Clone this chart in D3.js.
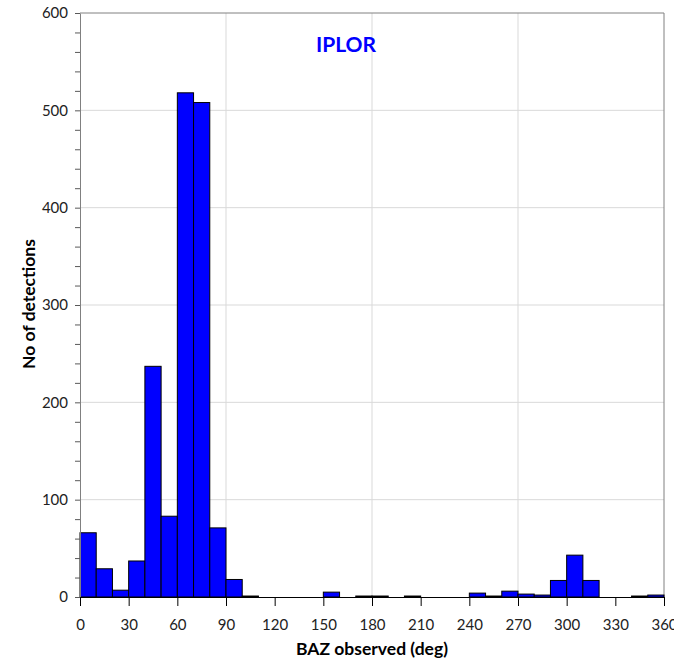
<!DOCTYPE html>
<html>
<head>
<meta charset="utf-8">
<script src="https://cdn.jsdelivr.net/npm/d3@7"></script>
<style>
body { margin: 0; background: #fff; }
text { font-family: Lato, "Open Sans", sans-serif; }
</style>
</head>
<body>
<script>
// histogram bins (deg) and counts
const binStarts = d3.range(0, 360, 10);
const counts = [66, 29, 7, 37, 237, 83, 518, 508, 71, 18,
                1, 0, 0, 0, 0, 5, 0, 1, 1, 0,
                1, 0, 0, 0, 4, 1, 6, 3, 2, 17,
                43, 17, 0, 0, 1, 2];
const xTicks = d3.range(0, 361, 30);
const yTicks = d3.range(0, 601, 100);
const yMinor = d3.range(0, 601, 20);
const xGrid = [90, 180, 270];

const w = 674, h = 662;
const mLeft = 80, mRight = 664, mTop = 13, mBottom = 597;

const svg = d3.select("body").append("svg")
  .attr("width", w).attr("height", h);

const x = d3.scaleLinear().domain([0, 360]).range([mLeft, mRight]);
const y = d3.scaleLinear().domain([0, 600]).range([mBottom, mTop]);

// grid
svg.append("g").selectAll("line")
  .data(yTicks.filter(d => d > 0 && d < 600))
  .enter().append("line")
  .attr("x1", mLeft).attr("x2", mRight)
  .attr("y1", d => y(d)).attr("y2", d => y(d))
  .attr("stroke", "#d9d9d9").attr("stroke-width", 1);

svg.append("g").selectAll("line")
  .data(xGrid)
  .enter().append("line")
  .attr("x1", d => x(d)).attr("x2", d => x(d))
  .attr("y1", mTop).attr("y2", mBottom)
  .attr("stroke", "#d9d9d9").attr("stroke-width", 1);

// frame top / right
svg.append("line").attr("x1", mLeft).attr("x2", mRight).attr("y1", mTop).attr("y2", mTop)
  .attr("stroke", "#808080");
svg.append("line").attr("x1", mRight).attr("x2", mRight).attr("y1", mTop).attr("y2", mBottom)
  .attr("stroke", "#808080");

// bars
svg.append("g").selectAll("rect")
  .data(binStarts)
  .enter().append("rect")
  .attr("x", d => x(d))
  .attr("width", d => x(d + 10) - x(d))
  .attr("y", (d, i) => y(counts[i]))
  .attr("height", (d, i) => y(0) - y(counts[i]))
  .attr("fill", "#0000ff")
  .attr("stroke", "#000")
  .attr("stroke-width", 1);

// y axis
const yAxis = svg.append("g").attr("transform", `translate(${mLeft},0)`)
  .call(d3.axisLeft(y).tickValues(yMinor).tickSize(5).tickSizeOuter(0)
    .tickFormat(d => d % 100 === 0 ? d : ""));
yAxis.select(".domain").attr("stroke", "#808080");
yAxis.selectAll(".tick line").attr("stroke", "#595959");
yAxis.selectAll(".tick text")
  .attr("x", -12).attr("font-size", 15).attr("fill", "#222")
  .style("font-family", "Lato, sans-serif");

// x axis
const xAxis = svg.append("g").attr("transform", `translate(0,${mBottom})`)
  .call(d3.axisBottom(x).tickValues(xTicks).tickSize(9).tickSizeOuter(0));
xAxis.select(".domain").attr("stroke", "#000");
xAxis.selectAll(".tick line").attr("stroke", "#000");
xAxis.selectAll(".tick text")
  .attr("y", 22).attr("font-size", 15).attr("fill", "#222")
  .style("font-family", "Lato, sans-serif");

// labels
svg.append("text")
  .attr("x", 372).attr("y", 655)
  .attr("text-anchor", "middle")
  .attr("font-size", 17.5).attr("font-weight", "bold")
  .text("BAZ observed (deg)");

svg.append("text")
  .attr("transform", "translate(35,304) rotate(-90)")
  .attr("text-anchor", "middle")
  .attr("font-size", 17.5).attr("font-weight", "bold")
  .text("No of detections");

svg.append("text")
  .attr("x", 346).attr("y", 52)
  .attr("text-anchor", "middle")
  .attr("font-size", 21).attr("font-weight", "bold")
  .attr("fill", "#0000ff")
  .text("IPLOR");
</script>
</body>
</html>
